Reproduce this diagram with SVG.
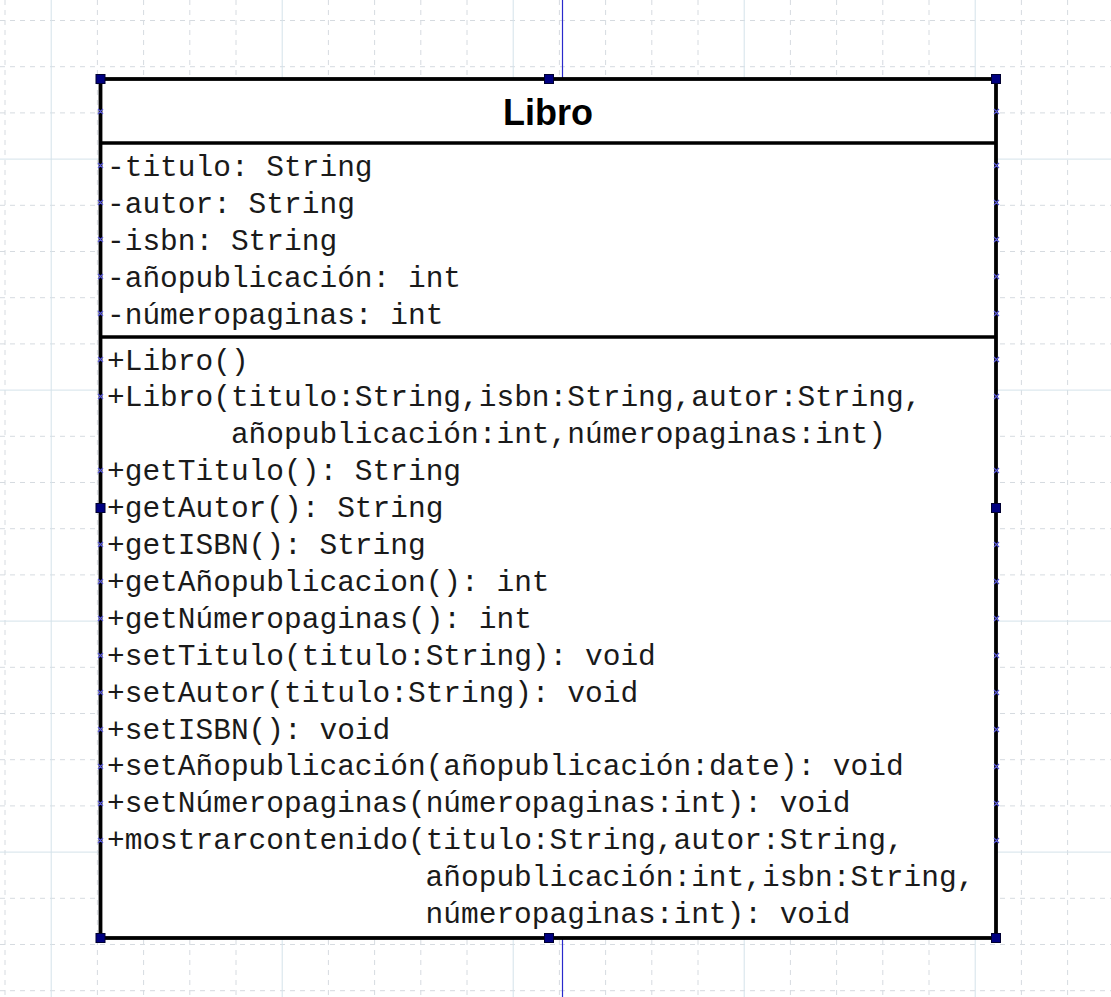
<svg xmlns="http://www.w3.org/2000/svg" width="1111" height="997" viewBox="0 0 1111 997">
<style>
.minor{stroke:#d6dbe0;stroke-width:1;stroke-dasharray:5,5;fill:none}
.major{stroke:#d4e2ea;stroke-width:1;fill:none}
.frame{fill:#ffffff;stroke:#000000;stroke-width:3.8}
.sep{stroke:#000000;stroke-width:3.5}
.title{font-family:"Liberation Sans",Arial,sans-serif;font-weight:bold;font-size:36px;fill:#000;text-anchor:middle}
.mem{font-family:"Liberation Mono","Courier New",monospace;font-size:29.5px;fill:#1a1a1a}
.handle{fill:#000080;stroke:#000030;stroke-width:1}
.tick{stroke:#5a5ad8;stroke-width:1.2;fill:none}
.conn{stroke:#2a2acc;stroke-width:1.2;fill:none}
</style>
<rect x="0" y="0" width="1111" height="997" fill="#ffffff"/>
<g id="grid">
<path class="minor" d="M5 0V997M97.4 0V997M143.6 0V997M189.8 0V997M236 0V997M328.4 0V997M374.6 0V997M420.8 0V997M467 0V997M559.4 0V997M605.6 0V997M651.8 0V997M698 0V997M790.4 0V997M836.6 0V997M882.8 0V997M929 0V997M1021.4 0V997M1067.6 0V997"/>
<path class="minor" d="M0 20.5H1111M0 66.7H1111M0 112.9H1111M0 205.3H1111M0 251.5H1111M0 297.7H1111M0 343.9H1111M0 436.3H1111M0 482.5H1111M0 528.7H1111M0 574.9H1111M0 667.3H1111M0 713.5H1111M0 759.7H1111M0 805.9H1111M0 898.3H1111M0 944.5H1111M0 990.7H1111"/>
<path class="major" d="M51.2 0V997M282.2 0V997M513.2 0V997M744.2 0V997M975.2 0V997M0 159.1H1111M0 390.1H1111M0 621.1H1111M0 852.1H1111"/>
</g>
<g id="connectors">
<path class="conn" d="M562.5 0V79"/>
<path class="conn" d="M562.5 938V997"/>
</g>
<g id="Libro">
<rect class="frame" x="100.5" y="79" width="895.5" height="859"/>
<line class="sep" x1="100.5" y1="143" x2="996" y2="143"/>
<line class="sep" x1="100.5" y1="337" x2="996" y2="337"/>
<text class="title" x="548" y="124.5">Libro</text>
<g class="mem">
<text x="107" y="175.5">-titulo: String</text>
<text x="107" y="212.5">-autor: String</text>
<text x="107" y="249.5">-isbn: String</text>
<text x="107" y="286.5">-añopublicación: int</text>
<text x="107" y="323.5">-númeropaginas: int</text>
<text x="107" y="369.5">+Libro()</text>
<text x="107" y="406.4">+Libro(titulo:String,isbn:String,autor:String,</text>
<text x="230.9" y="443.3">añopublicación:int,númeropaginas:int)</text>
<text x="107" y="480.2">+getTitulo(): String</text>
<text x="107" y="517.1">+getAutor(): String</text>
<text x="107" y="554">+getISBN(): String</text>
<text x="107" y="590.9">+getAñopublicacion(): int</text>
<text x="107" y="627.8">+getNúmeropaginas(): int</text>
<text x="107" y="664.7">+setTitulo(titulo:String): void</text>
<text x="107" y="701.6">+setAutor(titulo:String): void</text>
<text x="107" y="738.5">+setISBN(): void</text>
<text x="107" y="775.4">+setAñopublicación(añopublicación:date): void</text>
<text x="107" y="812.3">+setNúmeropaginas(númeropaginas:int): void</text>
<text x="107" y="849.2">+mostrarcontenido(titulo:String,autor:String,</text>
<text x="425.6" y="886.1">añopublicación:int,isbn:String,</text>
<text x="425.6" y="923">númeropaginas:int): void</text>
</g>
<path class="tick" d="M98 109l5 5m0-5l-5 5M994 109l5 5m0-5l-5 5
M98 163l5 5m0-5l-5 5M994 163l5 5m0-5l-5 5
M98 200l5 5m0-5l-5 5M994 200l5 5m0-5l-5 5
M98 237l5 5m0-5l-5 5M994 237l5 5m0-5l-5 5
M98 274l5 5m0-5l-5 5M994 274l5 5m0-5l-5 5
M98 311l5 5m0-5l-5 5M994 311l5 5m0-5l-5 5
M98 357l5 5m0-5l-5 5M994 357l5 5m0-5l-5 5
M98 394l5 5m0-5l-5 5M994 394l5 5m0-5l-5 5
M98 468l5 5m0-5l-5 5M994 468l5 5m0-5l-5 5
M98 542l5 5m0-5l-5 5M994 542l5 5m0-5l-5 5
M98 579l5 5m0-5l-5 5M994 579l5 5m0-5l-5 5
M98 616l5 5m0-5l-5 5M994 616l5 5m0-5l-5 5
M98 653l5 5m0-5l-5 5M994 653l5 5m0-5l-5 5
M98 690l5 5m0-5l-5 5M994 690l5 5m0-5l-5 5
M98 727l5 5m0-5l-5 5M994 727l5 5m0-5l-5 5
M98 764l5 5m0-5l-5 5M994 764l5 5m0-5l-5 5
M98 801l5 5m0-5l-5 5M994 801l5 5m0-5l-5 5
M98 838l5 5m0-5l-5 5M994 838l5 5m0-5l-5 5"/>
<rect class="handle" x="96" y="74.5" width="9" height="9"/>
<rect class="handle" x="544.5" y="74.5" width="9" height="9"/>
<rect class="handle" x="991.5" y="74.5" width="9" height="9"/>
<rect class="handle" x="96" y="503.5" width="9" height="9"/>
<rect class="handle" x="991.5" y="503.5" width="9" height="9"/>
<rect class="handle" x="96" y="933.5" width="9" height="9"/>
<rect class="handle" x="544.5" y="933.5" width="9" height="9"/>
<rect class="handle" x="991.5" y="933.5" width="9" height="9"/>
</g>
</svg>
